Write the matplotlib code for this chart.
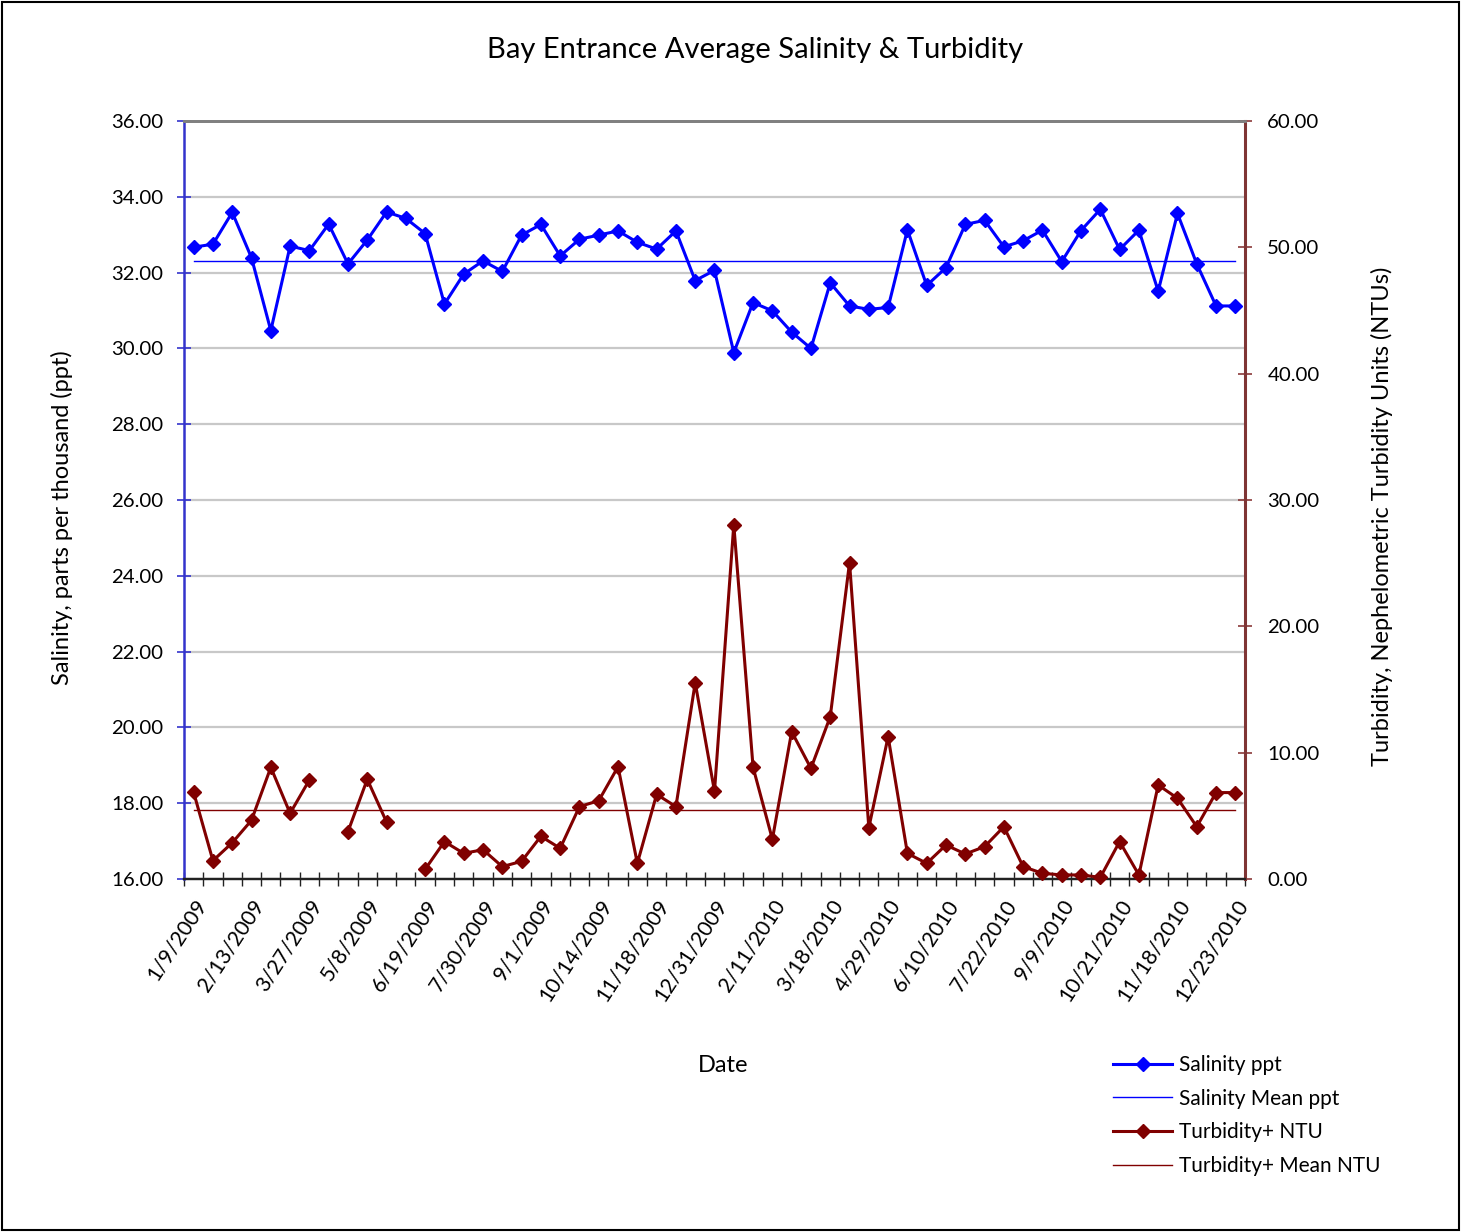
import numpy as np
import matplotlib
matplotlib.use("Agg")
import matplotlib.pyplot as plt
from matplotlib.patches import Rectangle
from matplotlib.ticker import FixedLocator, FormatStrFormatter

plt.rcParams['font.family'] = ['Lato', 'DejaVu Sans']

# data (55 sampling dates, category axis)
salinity = [32.67, 32.75, 33.59, 32.39, 30.47, 32.70, 32.58, 33.28, 32.23, 32.86,
            33.60, 33.43, 33.03, 31.17, 31.96, 32.31, 32.03, 32.99, 33.27, 32.44,
            32.88, 32.99, 33.10, 32.80, 32.62, 33.10, 31.79, 32.06, 29.89, 31.21,
            30.99, 30.43, 30.00, 31.73, 31.12, 31.03, 31.08, 33.13, 31.66, 32.13,
            33.27, 33.38, 32.68, 32.84, 33.12, 32.29, 33.11, 33.67, 32.61, 33.12,
            31.51, 33.56, 32.23, 31.12, 31.12]
turbidity = [6.86, 1.45, 2.87, 4.65, 8.84, 5.20, 7.84, np.nan, 3.75, 7.89,
             4.51, np.nan, 0.77, 2.96, 2.03, 2.32, 0.98, 1.40, 3.38, 2.43,
             5.73, 6.20, 8.89, 1.24, 6.70, 5.73, 15.54, 6.94, 28.05, 8.84,
             3.14, 11.66, 8.76, 12.85, 25.05, 4.06, 11.27, 2.03, 1.24, 2.69,
             1.98, 2.56, 4.14, 0.98, 0.45, 0.32, 0.32, 0.13, 2.96, 0.32,
             7.44, 6.39, 4.14, 6.84, 6.84]
salinity_mean = 32.31
turbidity_mean = 5.50
tick_labels = ['1/9/2009', '2/13/2009', '3/27/2009', '5/8/2009', '6/19/2009',
               '7/30/2009', '9/1/2009', '10/14/2009', '11/18/2009', '12/31/2009',
               '2/11/2010', '3/18/2010', '4/29/2010', '6/10/2010', '7/22/2010',
               '9/9/2010', '10/21/2010', '11/18/2010', '12/23/2010']

n = len(salinity)
x = np.arange(n)
fs = 14.7      # tick labels
lfs = 17       # axis titles
blue = '#0000FF'
red = '#800000'

fig = plt.figure(figsize=(14.61, 12.32), dpi=100)
ax = fig.add_axes([184/1461, 1-879/1232, (1245-184)/1461, (879-121)/1232])
ax2 = ax.twinx()

# gridlines follow the left axis
ax.set_ylim(16, 36)
ax.set_yticks(np.arange(16, 36.1, 2))
ax.yaxis.set_major_formatter(FormatStrFormatter('%.2f'))
ax.grid(axis='y', color='#C8C8C8', lw=1.6, zorder=0)
ax.set_axisbelow(True)

ax2.set_ylim(0, 60)
ax2.set_yticks(np.arange(0, 60.1, 10))
ax2.yaxis.set_major_formatter(FormatStrFormatter('%.2f'))

ax.set_xlim(-0.5, n - 0.5)
ax.set_xticks(x[::3])
ax.set_xticklabels(tick_labels, rotation=57, ha='right', va='top',
                   rotation_mode='anchor', fontsize=fs + 0.5)
ax.xaxis.set_minor_locator(FixedLocator(np.arange(-0.5, n, 1)))
ax.tick_params(axis='x', which='major', length=0, pad=12)
ax.tick_params(axis='x', which='minor', direction='inout', length=10, width=1, color='#222222')

ax.tick_params(axis='y', direction='inout', length=10, width=1.2, color='#3333CC', labelsize=fs, pad=10)
ax2.tick_params(axis='y', direction='inout', length=10, width=1.2, color='#8B3A3A', labelsize=fs, pad=11)

for a in (ax, ax2):
    a.spines['bottom'].set_color('#222222')
    a.spines['bottom'].set_linewidth(1.6)
    a.spines['top'].set_color('#808080')
    a.spines['top'].set_linewidth(2)
    a.spines['left'].set_visible(False)
    a.spines['right'].set_visible(False)
ax.spines['left'].set_visible(True)
ax.spines['left'].set_color('#3333CC')
ax.spines['left'].set_linewidth(1.8)
ax2.spines['right'].set_visible(True)
ax2.spines['right'].set_color('#7F3535')
ax2.spines['right'].set_linewidth(2.2)

l1, = ax.plot(x, salinity, color=blue, lw=2.2, marker='D', ms=7, zorder=3, clip_on=False)
l2, = ax.plot([0, n - 1], [salinity_mean] * 2, color=blue, lw=1, zorder=2)
l3, = ax2.plot(x, turbidity, color=red, lw=2.2, marker='D', ms=7, zorder=3, clip_on=False)
l4, = ax2.plot([0, n - 1], [turbidity_mean] * 2, color=red, lw=1, zorder=2)

ax.set_ylabel('Salinity, parts per thousand (ppt)', fontsize=lfs)
ax.yaxis.set_label_coords(-0.1046, 0.477)
ax2.set_ylabel('Turbidity, Nephelometric Turbidity Units (NTUs)', fontsize=lfs)
ax2.yaxis.set_label_coords(1.1187, 0.478)

fig.text(755/1461, 1-50/1232, 'Bay Entrance Average Salinity & Turbidity',
         ha='center', va='center', fontsize=21)
fig.text(723/1461, 1-1066/1232, 'Date', ha='center', va='center', fontsize=lfs)

fig.legend([l1, l2, l3, l4],
           ['Salinity ppt', 'Salinity Mean ppt', 'Turbidity+ NTU', 'Turbidity+ Mean NTU'],
           loc='upper left', bbox_to_anchor=(1113/1461, 1-1055/1232),
           frameon=False, fontsize=15.0, handlelength=2.85, handletextpad=0.3,
           labelspacing=0.66, borderaxespad=0, borderpad=0)

# outer chart border
fig.patches.append(Rectangle((2/1461, 2/1232), 1457/1461, 1228/1232, transform=fig.transFigure,
                             fill=False, edgecolor='black', lw=1.5))

fig.savefig('out.png', dpi=100)
